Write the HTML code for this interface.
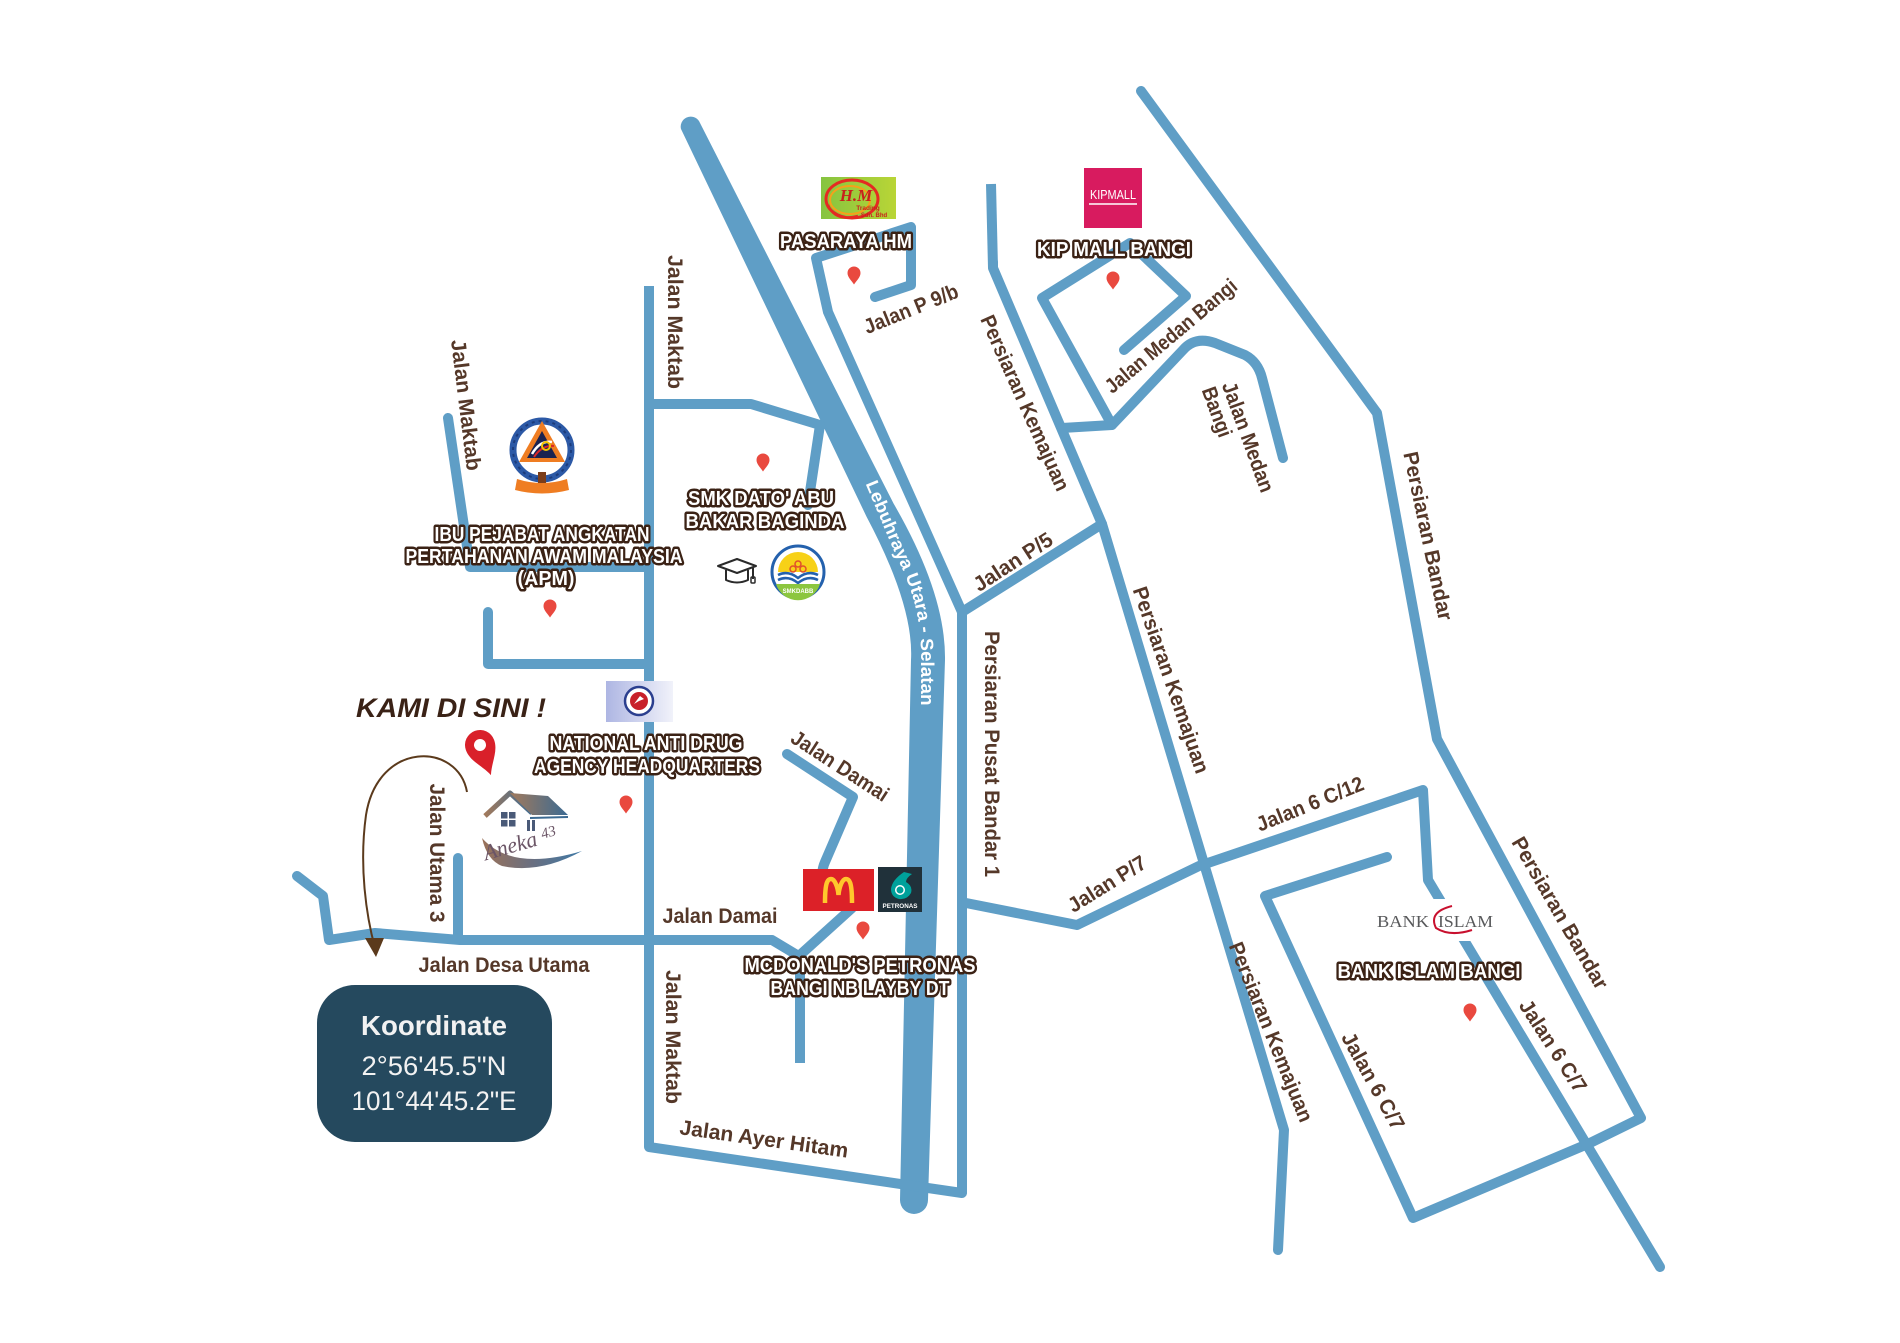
<!DOCTYPE html>
<html><head><meta charset="utf-8">
<style>
html,body{margin:0;padding:0;background:#fff;}
svg{display:block;}
.r{fill:none;stroke:#5f9ec6;stroke-width:10;stroke-linecap:round;stroke-linejoin:round;}
.rb{fill:none;stroke:#5f9ec6;stroke-width:10;stroke-linecap:butt;stroke-linejoin:round;}
.rl{font-family:"Liberation Sans",sans-serif;font-weight:bold;font-size:21px;fill:#553829;}
.lb{font-family:"Liberation Sans",sans-serif;font-weight:bold;font-size:20px;fill:#fff;stroke:#3b2215;stroke-width:5;stroke-linejoin:round;paint-order:stroke;}
</style></head><body>
<svg width="1900" height="1343" viewBox="0 0 1900 1343" xmlns="http://www.w3.org/2000/svg">
<defs>
<linearGradient id="hmg" x1="0" y1="0" x2="1" y2="0"><stop offset="0" stop-color="#86c440"/><stop offset="1" stop-color="#b9d536"/></linearGradient>
<linearGradient id="nadag" x1="0" y1="0" x2="1" y2="0"><stop offset="0" stop-color="#aeb6e3"/><stop offset="1" stop-color="#f1f2fa"/></linearGradient>
<linearGradient id="roofg" x1="0" y1="0" x2="1" y2="0"><stop offset="0" stop-color="#a27a5c"/><stop offset="1" stop-color="#3b6a92"/></linearGradient>
<linearGradient id="swg" x1="0" y1="0" x2="1" y2="0"><stop offset="0" stop-color="#9b7259"/><stop offset="0.5" stop-color="#6a6f80"/><stop offset="1" stop-color="#3f79a6"/></linearGradient>
<path id="hw" d="M864,480 L897,558 Q921,604 921,654 L921,770"/>
</defs>
<rect width="1900" height="1343" fill="#fff"/>

<!-- ROADS -->
<path d="M681,129 A10,10 0 0,1 699,121 L893.5,503.4 Q946,594 945,660 L928,1200 A14,14 0 0,1 900,1200 L911,660 Q914,606 866.5,516.6 Z" fill="#5f9ec6"/>
<path class="rb" d="M649,286 L649,1147"/>
<path class="r" d="M649,1140 L649,1147 L962,1193 L962,612 L828,312 L816,258 L911,227 L911,285 L875,297"/>
<path class="r" d="M448,418 L470,567 L648,567"/>
<path class="r" d="M488,612 L488,664 L648,664"/>
<path class="r" d="M649,404 L751,404 L820,425 L808,505"/>
<path class="r" d="M297,876 L323,896 L329,940 L375,933 L460,940 L772,940 L797,955"/>
<path class="rb" d="M800,953 L800,1063"/>
<path class="r" d="M458,858 L458,938"/>
<path class="r" d="M787,754 L853,797 L825,862 Q818,878 830,890 L852,908 L800,955"/>
<path class="r" d="M962,612 L1102,524"/>
<path class="rb" d="M991,184 L993,268"/>
<path class="r" d="M993,262 L993,268 L1102,524 L1284,1130 L1278,1250"/>
<path class="r" d="M1124,350 L1186,296 L1130,243 L1042,298 L1112,425 L1062,428"/>
<path class="r" d="M1112,425 L1183,350 Q1195,336 1215,343 L1245,355 Q1258,362 1262,378 L1283,458"/>
<path class="r" d="M1141,91 L1377,413 L1437,739 L1641,1118 L1590,1143 L1413,1218 L1265,896 L1387,857"/>
<path class="r" d="M966,903 L1077,925 L1199,866 L1423,790 L1428,880 L1660,1267"/>

<!-- highway label -->
<text font-family="Liberation Sans, sans-serif" font-weight="bold" font-size="18" fill="#fff"><textPath href="#hw" startOffset="4" textLength="232" lengthAdjust="spacingAndGlyphs">Lebuhraya Utara - Selatan</textPath></text>

<!-- ROAD LABELS -->
<text class="rl" transform="translate(466,405) rotate(83)" y="7" text-anchor="middle" textLength="132" lengthAdjust="spacingAndGlyphs">Jalan  Maktab</text>
<text class="rl" transform="translate(675,322) rotate(90)" y="7" text-anchor="middle" textLength="134" lengthAdjust="spacingAndGlyphs">Jalan  Maktab</text>
<text class="rl" transform="translate(673,1037) rotate(90)" y="7" text-anchor="middle" textLength="134" lengthAdjust="spacingAndGlyphs">Jalan  Maktab</text>
<text class="rl" transform="translate(437,853) rotate(90)" y="7" text-anchor="middle" textLength="139" lengthAdjust="spacingAndGlyphs">Jalan Utama 3</text>
<text class="rl" x="504" y="972" text-anchor="middle" textLength="171" lengthAdjust="spacingAndGlyphs">Jalan Desa Utama</text>
<text class="rl" x="720" y="923" text-anchor="middle" textLength="115" lengthAdjust="spacingAndGlyphs">Jalan Damai</text>
<text class="rl" transform="translate(840,766) rotate(33)" y="7" text-anchor="middle" textLength="112" lengthAdjust="spacingAndGlyphs">Jalan Damai</text>
<text class="rl" transform="translate(764,1139) rotate(8)" y="7" text-anchor="middle" textLength="170" lengthAdjust="spacingAndGlyphs">Jalan  Ayer Hitam</text>
<text class="rl" transform="translate(911,309) rotate(-22)" y="7" text-anchor="middle" textLength="100" lengthAdjust="spacingAndGlyphs">Jalan P 9/b</text>
<text class="rl" transform="translate(1025,403) rotate(66)" y="7" text-anchor="middle" textLength="190" lengthAdjust="spacingAndGlyphs">Persiaran Kemajuan</text>
<text class="rl" transform="translate(1171,336) rotate(-40)" y="7" text-anchor="middle" textLength="165" lengthAdjust="spacingAndGlyphs">Jalan Medan Bangi</text>
<text class="rl" transform="translate(1248,437) rotate(70)" y="7" text-anchor="middle" textLength="116" lengthAdjust="spacingAndGlyphs">Jalan Medan</text>
<text class="rl" transform="translate(1217,412) rotate(70)" y="7" text-anchor="middle" textLength="52" lengthAdjust="spacingAndGlyphs">Bangi</text>
<text class="rl" transform="translate(1428,536) rotate(78)" y="7" text-anchor="middle" textLength="172" lengthAdjust="spacingAndGlyphs">Persiaran Bandar</text>
<text class="rl" transform="translate(992,754) rotate(90)" y="7" text-anchor="middle" textLength="246" lengthAdjust="spacingAndGlyphs">Persiaran Pusat Bandar 1</text>
<text class="rl" transform="translate(1171,680) rotate(71)" y="7" text-anchor="middle" textLength="196" lengthAdjust="spacingAndGlyphs">Persiaran Kemajuan</text>
<text class="rl" transform="translate(1013,562) rotate(-33)" y="7" text-anchor="middle" textLength="90" lengthAdjust="spacingAndGlyphs">Jalan P/5</text>
<text class="rl" transform="translate(1107,884) rotate(-32)" y="7" text-anchor="middle" textLength="88" lengthAdjust="spacingAndGlyphs">Jalan P/7</text>
<text class="rl" transform="translate(1310,804) rotate(-22)" y="7" text-anchor="middle" textLength="114" lengthAdjust="spacingAndGlyphs">Jalan 6 C/12</text>
<text class="rl" transform="translate(1560,913) rotate(60)" y="7" text-anchor="middle" textLength="172" lengthAdjust="spacingAndGlyphs">Persiaran Bandar</text>
<text class="rl" transform="translate(1553,1046) rotate(57)" y="7" text-anchor="middle" textLength="106" lengthAdjust="spacingAndGlyphs">Jalan 6 C/7</text>
<text class="rl" transform="translate(1271,1032) rotate(68)" y="7" text-anchor="middle" textLength="192" lengthAdjust="spacingAndGlyphs">Persiaran Kemajuan</text>
<text class="rl" transform="translate(1373,1081) rotate(61)" y="7" text-anchor="middle" textLength="108" lengthAdjust="spacingAndGlyphs">Jalan 6 C/7</text>

<!-- HM logo -->
<rect x="821" y="177" width="75" height="42" fill="url(#hmg)"/>
<ellipse cx="852" cy="199" rx="26" ry="19" fill="none" stroke="#e42a22" stroke-width="3"/>
<ellipse cx="850" cy="200" rx="20" ry="14" fill="none" stroke="#f6a01a" stroke-width="2"/>
<path d="M828,205 Q835,222 858,216" fill="none" stroke="#e42a22" stroke-width="2.5"/>
<text x="856" y="201" font-family="Liberation Serif, serif" font-style="italic" font-weight="bold" font-size="17" fill="#c9201c" text-anchor="middle">H.M</text>
<text x="868" y="210" font-family="Liberation Sans, sans-serif" font-size="6.5" font-weight="bold" fill="#c9201c" text-anchor="middle">Trading</text>
<text x="874" y="217" font-family="Liberation Sans, sans-serif" font-size="6" font-weight="bold" fill="#c9201c" text-anchor="middle">Sdn. Bhd</text>

<!-- KIP MALL logo -->
<rect x="1084" y="168" width="58" height="60" fill="#d81b5f"/>
<text x="1113" y="199" font-family="Liberation Sans, sans-serif" font-size="13" fill="#fff" text-anchor="middle" textLength="46" lengthAdjust="spacingAndGlyphs">KIPMALL</text>
<line x1="1089" y1="204" x2="1137" y2="204" stroke="#fff" stroke-width="1.5"/>

<!-- APM logo -->
<g transform="translate(542,450)">
<circle r="29" fill="#fff" stroke="#2c59a6" stroke-width="7"/>
<circle r="29" fill="none" stroke="#1c3c7c" stroke-width="2" stroke-dasharray="3 4"/>
<polygon points="0,-29 23,12 -23,12" fill="#ef7d22"/>
<polygon points="0,-19 15,8 -15,8" fill="#1b2350"/>
<path d="M-10,4 Q-2,-10 10,-8" fill="none" stroke="#fff" stroke-width="2.5"/>
<path d="M-8,7 Q0,-5 12,-4" fill="none" stroke="#d9262a" stroke-width="2"/>
<circle cx="4" cy="-4" r="4" fill="none" stroke="#f5c400" stroke-width="2"/>
<path d="M-25,29 Q0,37 25,29 L27,40 Q0,47 -27,40 Z" fill="#ef7d22"/>
<rect x="-4" y="22" width="8" height="11" fill="#7b3d1a"/>
</g>

<!-- SMK logo + cap -->
<g transform="translate(798,572)">
<circle r="26" fill="#fff" stroke="#2461ad" stroke-width="3"/>
<path d="M-20,0 A20,20 0 0,1 20,0 Z" fill="#f7d117"/>
<circle cx="0" cy="-8" r="3" fill="none" stroke="#e0502a" stroke-width="1.5"/>
<circle cx="-5" cy="-3" r="3" fill="none" stroke="#e0502a" stroke-width="1.5"/>
<circle cx="5" cy="-3" r="3" fill="none" stroke="#e0502a" stroke-width="1.5"/>
<path d="M-20,3 Q-10,-2 0,6 Q10,-2 20,3 M-20,8 Q-10,3 0,11 Q10,3 20,8" fill="none" stroke="#2461ad" stroke-width="2.5"/>
<path d="M-22,12 A23,23 0 0,0 22,12 Z" fill="#8cc63f"/>
<text x="0" y="21" font-family="Liberation Sans, sans-serif" font-size="6" font-weight="bold" fill="#fff" text-anchor="middle">SMKDABB</text>
</g>
<g fill="none" stroke="#2a2a2a" stroke-width="2" stroke-linejoin="round">
<path d="M718,566 L737,559 L756,566 L737,573 Z"/>
<path d="M726,570 L726,580 Q737,585 748,580 L748,570"/>
<path d="M753,568 L753,579"/>
</g>
<rect x="751" y="577" width="4" height="6" rx="1" fill="none" stroke="#2a2a2a" stroke-width="1.5"/>

<!-- NADA logo -->
<rect x="606" y="681" width="67" height="41" fill="url(#nadag)"/>
<circle cx="639" cy="701" r="14" fill="#fff" stroke="#2b3f8f" stroke-width="2.5"/>
<circle cx="639" cy="701" r="9" fill="#c8202a"/>
<path d="M634,704 L640,696 L644,699 L639,701 Z" fill="#fff"/>

<!-- McD & Petronas -->
<rect x="803" y="869" width="71" height="42" fill="#dc2128"/>
<path d="M825,903 C825,881 828,879 831,879 C835,879 838,888 838.5,895 C839,888 842,879 846,879 C849,879 852,881 852,903" fill="none" stroke="#ffc72c" stroke-width="4.5"/>
<rect x="878" y="867" width="44" height="45" fill="#20313a"/>
<path d="M904,872 L912,874 Q906,878 906,882 Q913,886 911,893 Q907,900 899,899 Q891,897 891,889 Q892,880 904,872 Z" fill="#00a19b"/>
<circle cx="900" cy="890" r="5" fill="#fff"/>
<circle cx="900" cy="890" r="3.5" fill="#00a19b"/>
<text x="900" y="908" font-family="Liberation Sans, sans-serif" font-size="6.5" font-weight="bold" fill="#fff" text-anchor="middle" textLength="35" lengthAdjust="spacingAndGlyphs">PETRONAS</text>

<!-- Bank Islam logo -->
<rect x="1372" y="899" width="128" height="42" fill="#fff"/>
<text x="1377" y="927" font-family="Liberation Serif, serif" font-size="17" fill="#58595b" textLength="52" lengthAdjust="spacingAndGlyphs">BANK</text>
<text x="1438" y="927" font-family="Liberation Serif, serif" font-size="17" fill="#58595b" textLength="55" lengthAdjust="spacingAndGlyphs">ISLAM</text>
<path d="M1452,906 Q1428,912 1436,928 Q1450,937 1472,930" fill="none" stroke="#c8102e" stroke-width="2"/>

<!-- Aneka 43 house -->
<g>
<path d="M485,816 L510,793 L532,813" fill="none" stroke="url(#roofg)" stroke-width="5" stroke-linejoin="round"/>
<path d="M510,793 L548,796 L568,815 L532,815 Z" fill="url(#roofg)"/>
<rect x="501" y="812" width="6.5" height="6.5" fill="#4a5a78"/>
<rect x="509" y="812" width="6.5" height="6.5" fill="#4a5a78"/>
<rect x="501" y="820" width="6.5" height="6.5" fill="#4a5a78"/>
<rect x="509" y="820" width="6.5" height="6.5" fill="#4a5a78"/>
<rect x="527" y="820" width="3" height="11" fill="#4a5a78"/>
<rect x="532" y="820" width="3" height="11" fill="#4a5a78"/>
<line x1="530" y1="818" x2="568" y2="817" stroke="#3b6a92" stroke-width="2"/>
<path d="M482,838 Q512,872 582,851 Q540,874 502,866 Q487,860 482,838 Z" fill="url(#swg)"/>
<text transform="translate(522,850) rotate(-16)" text-anchor="middle" font-family="Liberation Serif, serif" font-style="italic" font-size="22" fill="#6b5566">Aneka <tspan font-size="15" dy="-5">43</tspan></text>
</g>

<!-- KAMI DI SINI -->
<text x="451" y="717" text-anchor="middle" font-family="Liberation Sans, sans-serif" font-weight="bold" font-style="italic" font-size="27" fill="#3a2216" textLength="190" lengthAdjust="spacingAndGlyphs">KAMI DI SINI !</text>

<!-- big red pin -->
<g transform="translate(480,745) rotate(-20)">
<path d="M-15,0 A15,15 0 1,1 15,0 C15,12 5,20 0,32 C-5,20 -15,12 -15,0 Z" fill="#d9202a"/>
<circle r="6" fill="#fff"/>
</g>

<!-- arrow -->
<path d="M467,792 C458,742 378,740 366,815 C359,865 366,915 375,948" fill="none" stroke="#5b3a1c" stroke-width="2"/>
<path d="M365,938 L384,938 L376,957 Z" fill="#5b3a1c"/>

<!-- small pins -->
<g fill="#e9493f">
<path d="M543.5,606 a6.5,6.5 0 1,1 13,0 c0,4 -3.5,7 -6.5,11.5 c-3,-4.5 -6.5,-7.5 -6.5,-11.5z"/>
<path d="M619.5,802 a6.5,6.5 0 1,1 13,0 c0,4 -3.5,7 -6.5,11.5 c-3,-4.5 -6.5,-7.5 -6.5,-11.5z"/>
<path d="M756.5,460 a6.5,6.5 0 1,1 13,0 c0,4 -3.5,7 -6.5,11.5 c-3,-4.5 -6.5,-7.5 -6.5,-11.5z"/>
<path d="M847.5,273 a6.5,6.5 0 1,1 13,0 c0,4 -3.5,7 -6.5,11.5 c-3,-4.5 -6.5,-7.5 -6.5,-11.5z"/>
<path d="M1106.5,278 a6.5,6.5 0 1,1 13,0 c0,4 -3.5,7 -6.5,11.5 c-3,-4.5 -6.5,-7.5 -6.5,-11.5z"/>
<path d="M856.5,928 a6.5,6.5 0 1,1 13,0 c0,4 -3.5,7 -6.5,11.5 c-3,-4.5 -6.5,-7.5 -6.5,-11.5z"/>
<path d="M1463.5,1010 a6.5,6.5 0 1,1 13,0 c0,4 -3.5,7 -6.5,11.5 c-3,-4.5 -6.5,-7.5 -6.5,-11.5z"/>
</g>

<!-- OUTLINED LABELS -->
<text class="lb" x="846" y="248" text-anchor="middle" textLength="132" lengthAdjust="spacingAndGlyphs">PASARAYA HM</text>
<text class="lb" x="1114" y="256" text-anchor="middle" textLength="154" lengthAdjust="spacingAndGlyphs">KIP MALL BANGI</text>
<text class="lb" x="761" y="505" text-anchor="middle" textLength="146" lengthAdjust="spacingAndGlyphs">SMK DATO' ABU</text>
<text class="lb" x="765" y="528" text-anchor="middle" textLength="159" lengthAdjust="spacingAndGlyphs">BAKAR BAGINDA</text>
<text class="lb" x="542" y="541" text-anchor="middle" textLength="215" lengthAdjust="spacingAndGlyphs">IBU PEJABAT ANGKATAN</text>
<text class="lb" x="544" y="563" text-anchor="middle" textLength="277" lengthAdjust="spacingAndGlyphs">PERTAHANAN AWAM MALAYSIA</text>
<text class="lb" x="546" y="585" text-anchor="middle" textLength="57" lengthAdjust="spacingAndGlyphs">(APM)</text>
<text class="lb" x="646" y="750" text-anchor="middle" textLength="193" lengthAdjust="spacingAndGlyphs">NATIONAL ANTI DRUG</text>
<text class="lb" x="647" y="773" text-anchor="middle" textLength="226" lengthAdjust="spacingAndGlyphs">AGENCY HEADQUARTERS</text>
<text class="lb" x="860" y="972" text-anchor="middle" textLength="231" lengthAdjust="spacingAndGlyphs">MCDONALD'S PETRONAS</text>
<text class="lb" x="860" y="995" text-anchor="middle" textLength="179" lengthAdjust="spacingAndGlyphs">BANGI NB LAYBY DT</text>
<text class="lb" x="1429" y="978" text-anchor="middle" textLength="183" lengthAdjust="spacingAndGlyphs">BANK ISLAM BANGI</text>

<!-- Koordinate box -->
<rect x="317" y="985" width="235" height="157" rx="38" fill="#25495e"/>
<text x="434" y="1035" text-anchor="middle" font-family="Liberation Sans, sans-serif" font-weight="bold" font-size="28" fill="#f2f2f2" textLength="146" lengthAdjust="spacingAndGlyphs">Koordinate</text>
<text x="434" y="1075" text-anchor="middle" font-family="Liberation Sans, sans-serif" font-size="27" fill="#f2f2f2" textLength="145" lengthAdjust="spacingAndGlyphs">2°56'45.5"N</text>
<text x="434" y="1110" text-anchor="middle" font-family="Liberation Sans, sans-serif" font-size="27" fill="#f2f2f2" textLength="165" lengthAdjust="spacingAndGlyphs">101°44'45.2"E</text>
</svg>
</body></html>
